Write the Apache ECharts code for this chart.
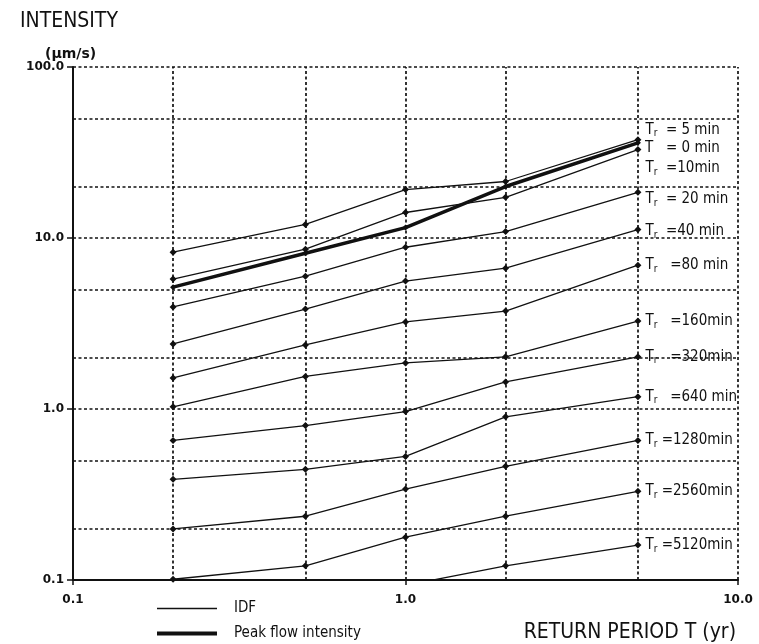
<!DOCTYPE html>
<html>
<head>
<meta charset="utf-8">
<script src="https://cdn.jsdelivr.net/npm/echarts@6/dist/echarts.min.js"></script>
<style>html,body{margin:0;padding:0;background:#fff}#c{width:759px;height:644px}</style>
</head>
<body>
<div id="c"></div>
<script>
// Return periods (yr) at which the curves are given
const xValues = [0.2, 0.5, 1, 2, 5];
// IDF curves, intensity (um/s), by rainfall duration Tr
const tr5    = [8.26, 12.0, 19.2, 21.4, 37.6];
const tr10   = [5.75, 8.6, 14.1, 17.3, 32.9];
const tr20   = [3.95, 5.98, 8.83, 10.9, 18.5];
const tr40   = [2.40, 3.84, 5.60, 6.66, 11.2];
const tr80   = [1.52, 2.37, 3.23, 3.74, 6.94];
const tr160  = [1.03, 1.55, 1.86, 2.02, 3.27];
const tr320  = [0.655, 0.80, 0.966, 1.44, 2.02];
const tr640  = [0.388, 0.444, 0.528, 0.90, 1.18];
const tr1280 = [0.199, 0.236, 0.34, 0.462, 0.655];
const tr2560 = [0.101, 0.121, 0.178, 0.236, 0.33];
const tr5120 = [null, null, 0.093, 0.121, 0.16];
// Peak flow intensity (T = 0 min)
const peakFlow = [5.16, 8.15, 11.5, 20.0, 36.0];

const idfNames = [' = 5 min', ' =10min', ' = 20 min', ' =40 min', '  =80 min', '  =160min', '  =320min', '  =640 min', '=1280min', '=2560min', '=5120min'];
const idfData = [tr5, tr10, tr20, tr40, tr80, tr160, tr320, tr640, tr1280, tr2560, tr5120];
const peakLabel = '  = 0 min';

// grid line positions
const xGrid = [0.2, 0.5, 1, 2, 5, 10];
const yGrid = [0.2, 0.5, 1, 2, 5, 10, 20, 50, 100];

// label vertical nudges (style only)
const idfLabelOffset = [-10, 19, 7, 2, 0, 0, 0, 0, 0, 0, 0];
const peakLabelOffset = 5;

const FONT = '"DejaVu Sans Condensed","Liberation Sans Narrow","DejaVu Sans",sans-serif';
const rich = {
  t: {fontFamily: FONT, fontSize: 15, color: '#111'},
  s: {fontFamily: FONT, fontSize: 10, color: '#111', padding: [8, 0, 0, 0]}
};

function buildData(vals, labelText, dy, isPeak) {
  return xValues.map((x, i) => {
    const v = vals[i];
    const item = {value: [x, v == null ? null : v]};
    if (i === xValues.length - 1) {
      item.label = {
        show: true, position: 'right', distance: 4, offset: [0, dy],
        formatter: isPeak ? '{t|T ' + labelText + '}' : '{t|T}{s|r}{t| ' + labelText + '}',
        rich: rich
      };
    }
    return item;
  });
}

const series = [];
// grid lines
series.push({
  type: 'line', name: 'grid', data: [], silent: true, z: 1,
  markLine: {
    silent: true, symbol: ['none', 'none'], animation: false,
    label: {show: false},
    lineStyle: {color: '#111', width: 1.7, type: [3, 2.5]},
    data: xGrid.map(v => ({xAxis: v})).concat(yGrid.map(v => ({yAxis: v})))
  }
});
idfData.forEach((vals, k) => {
  series.push({
    type: 'line', name: 'IDF', z: 3,
    data: buildData(vals, idfNames[k], idfLabelOffset[k], false),
    symbol: 'diamond', symbolSize: 7,
    lineStyle: {color: '#111', width: 1.3},
    itemStyle: {color: '#111'},
    connectNulls: false, clip: true, animation: false
  });
});
series.push({
  type: 'line', name: 'Peak flow intensity', z: 4,
  data: buildData(peakFlow, peakLabel, peakLabelOffset, true),
  symbol: 'diamond', symbolSize: 6,
  lineStyle: {color: '#111', width: 3.5},
  itemStyle: {color: '#111'},
  clip: true, animation: false
});

const chart = echarts.init(document.getElementById('c'));
chart.setOption({
  backgroundColor: '#fff',
  animation: false,
  title: [
    {text: 'INTENSITY', left: 15, top: 6, textStyle: {fontFamily: FONT, fontSize: 21, fontWeight: 'normal', color: '#111'}},
    {text: '(μm/s)', left: 40, top: 42, textStyle: {fontFamily: '"DejaVu Sans",sans-serif', fontSize: 14, fontWeight: 'bold', color: '#111'}},
    {text: 'RETURN PERIOD T (yr)', right: 18, top: 617, textStyle: {fontFamily: FONT, fontSize: 21, fontWeight: 'normal', color: '#111'}}
  ],
  legend: [
    {data: ['IDF'], left: 152, top: 596, orient: 'vertical', icon: 'rect', itemWidth: 60, itemHeight: 1.5, selectedMode: false,
     textStyle: {fontFamily: FONT, fontSize: 15, color: '#111', padding: [0, 0, 0, 12]}},
    {data: ['Peak flow intensity'], left: 152, top: 621, orient: 'vertical', icon: 'rect', itemWidth: 60, itemHeight: 4, selectedMode: false,
     textStyle: {fontFamily: FONT, fontSize: 15, color: '#111', padding: [0, 0, 0, 12]}}
  ],
  grid: {left: 73, right: 21, top: 67, bottom: 64, containLabel: false},
  xAxis: {
    type: 'log', logBase: 10, min: 0.1, max: 10,
    axisLine: {show: true, lineStyle: {color: '#111', width: 2}},
    axisTick: {show: true, inside: false, length: 5, lineStyle: {color: '#111', width: 1.5}},
    axisLabel: {margin: 14, fontFamily: '"DejaVu Sans",sans-serif', fontWeight: 'bold', fontSize: 12, color: '#111',
                formatter: v => (+v).toFixed(1)},
    splitLine: {show: false}
  },
  yAxis: {
    type: 'log', logBase: 10, min: 0.1, max: 100,
    axisLine: {show: true, lineStyle: {color: '#111', width: 2}},
    axisTick: {show: true, inside: false, length: 6, lineStyle: {color: '#111', width: 1.5}},
    axisLabel: {margin: 9, fontFamily: '"DejaVu Sans",sans-serif', fontWeight: 'bold', fontSize: 12, color: '#111',
                formatter: v => (+v).toFixed(1)},
    splitLine: {show: false}
  },
  series: series
});
</script>
</body>
</html>
